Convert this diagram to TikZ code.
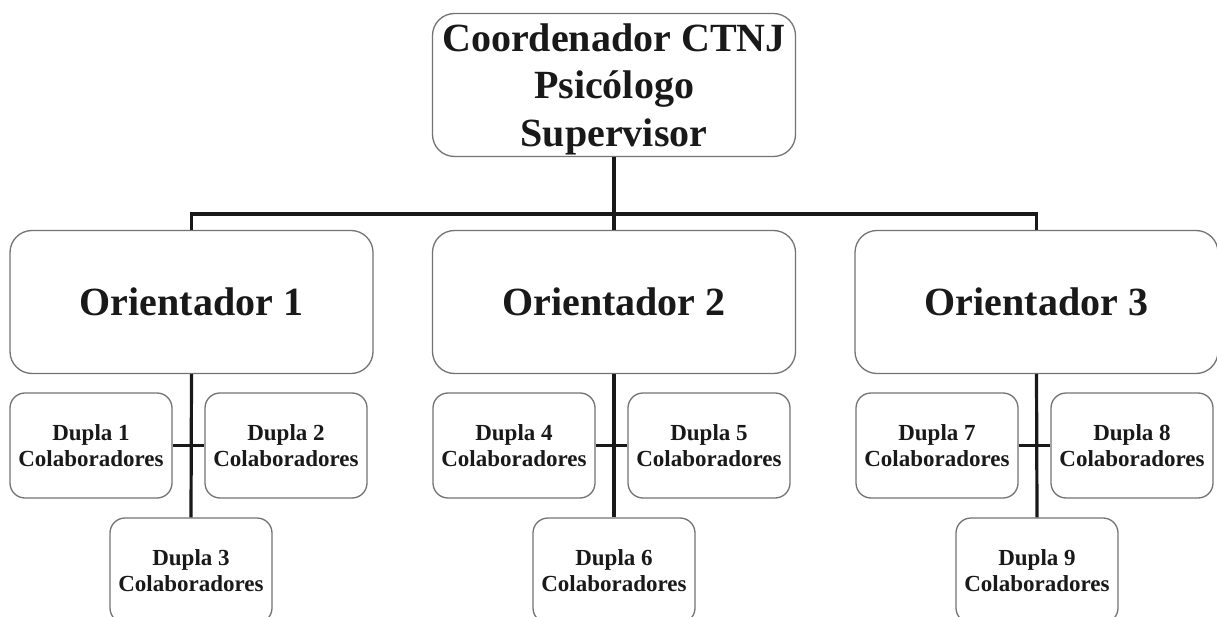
\documentclass[tikz,border=0pt]{standalone}
\usepackage{fontspec}
\setmainfont{Liberation Serif}
\usepackage{tikz}
\usetikzlibrary{positioning,calc}

\begin{document}
\begin{tikzpicture}[x=1pt,y=-1pt,
		box/.style={draw=black!55,line width=1.3pt,rounded corners=22pt,fill=white,
			align=center,inner sep=0pt,text=black!90,font=\bfseries},
		big/.style={box,minimum width=363pt,minimum height=143pt},
		small/.style={box,rounded corners=15pt,minimum width=162pt,minimum height=105pt,
			font=\bfseries\fontsize{23}{26.5}\selectfont},
		link/.style={draw=black!90,line width=3.2pt},
	]
		\useasboundingbox (0,0) rectangle (1217,617);
		\clip (0,0) rectangle (1217,617);

		\node[big] (top) at (614,85) {};
		\node[align=center,inner sep=0pt,text=black!90,font=\bfseries\fontsize{40}{47.5}\selectfont]
			(toptext) at ($(top.center)+(0,4)$) {Coordenador CTNJ\\Psicólogo\\Supervisor};

		\coordinate (bus) at (614,214);

		% orientadores e duplas
		\foreach \i/\x in {1/191.5,2/614,3/1036.5} {
			\node[big,font=\bfseries\fontsize{40}{45}\selectfont] (o\i) at (\x,302) {Orientador \i};
		}
		\foreach \i/\x in {1/191,2/614,3/1037} {
			\pgfmathtruncatemacro{\a}{3*\i-2}
			\pgfmathtruncatemacro{\b}{3*\i-1}
			\pgfmathtruncatemacro{\c}{3*\i}
			\node[small] (d\a) at (\x-100,445.5) {Dupla \a\\Colaboradores};
			\node[small] (d\b) at (\x+95,445.5) {Dupla \b\\Colaboradores};
			\node[small] (d\c) at (\x,570.5) {Dupla \c\\Colaboradores};
			\draw[link] (o\i.south) -- (d\c.north);
			\draw[link] (d\a.east) -- (d\b.west);
		}

		\draw[link] (top.south) -- (o2.north);
		\draw[link] (o1.north) |- (bus) -| (o3.north);
	\end{tikzpicture}
\end{document}
